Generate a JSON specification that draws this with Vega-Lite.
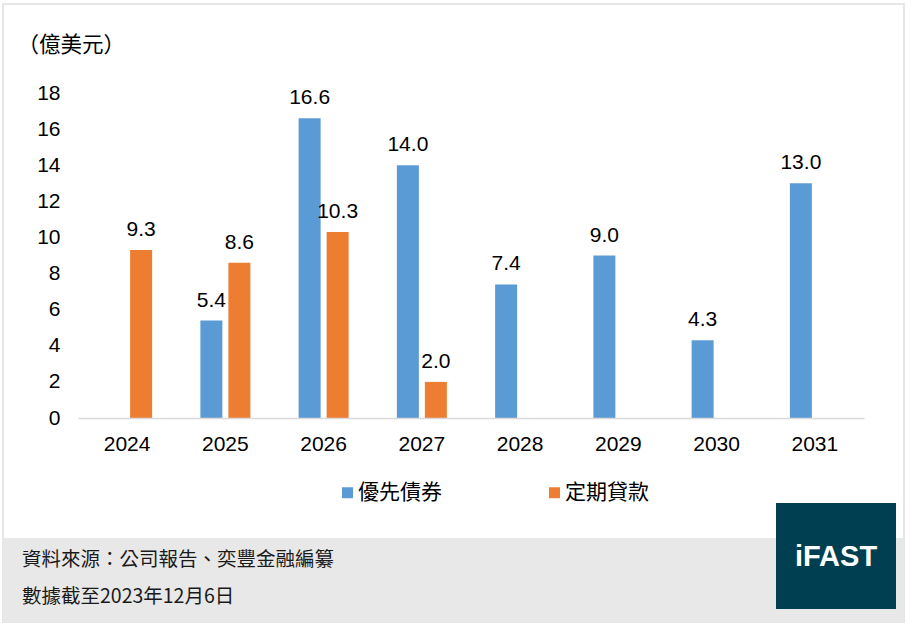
{
  "$schema": "https://vega.github.io/schema/vega-lite/v6.json",
  "description": "Senior bonds and term loans maturing by year (USD 100m)",
  "width": 786,
  "height": 325,
  "autosize": "none",
  "padding": {"left": 78, "top": 93, "right": 49, "bottom": 213},
  "background": "white",
  "config": {"view": {"stroke": null}},
  "resolve": {"scale": {"x": "independent", "y": "independent"}},
  "layer": [
    {
      "layer": [
        {
          "data": {"values": [{"part": "frame"}]},
          "mark": {"type": "rect", "fill": "white", "stroke": "#e6e6e6", "strokeWidth": 2},
          "encoding": {
            "x": {"datum": 3, "type": "quantitative", "axis": null,
                  "scale": {"domain": [0, 913], "range": [-78, 835], "nice": false, "zero": false}},
            "x2": {"datum": 904},
            "y": {"datum": 4, "type": "quantitative", "axis": null,
                  "scale": {"domain": [0, 631], "range": [-93, 538], "nice": false, "zero": false}},
            "y2": {"datum": 622}
          }
        },
        {
          "data": {"values": [{"part": "footer"}]},
          "mark": {"type": "rect", "fill": "#e8e8e8"},
          "encoding": {
            "x": {"datum": 3, "type": "quantitative"},
            "x2": {"datum": 904},
            "y": {"datum": 538, "type": "quantitative"},
            "y2": {"datum": 622}
          }
        },
        {
          "data": {"values": [{"part": "logo"}]},
          "mark": {"type": "rect", "fill": "#003f51"},
          "encoding": {
            "x": {"datum": 776, "type": "quantitative"},
            "x2": {"datum": 896},
            "y": {"datum": 503, "type": "quantitative"},
            "y2": {"datum": 609}
          }
        },
        {
          "data": {"values": [{"brand": "iFAST"}]},
          "mark": {"type": "text", "color": "white", "font": "Liberation Sans", "fontSize": 29,
                   "fontWeight": "bold", "align": "center", "baseline": "alphabetic"},
          "encoding": {
            "x": {"datum": 836, "type": "quantitative"},
            "y": {"datum": 566, "type": "quantitative"},
            "text": {"field": "brand"}
          }
        },
        {
          "data": {"values": [{"note": "資料來源：公司報告、奕豐金融編纂"}]},
          "mark": {"type": "text", "color": "#1a1a1a", "font": "Noto Sans CJK TC", "fontSize": 19.5,
                   "align": "left", "baseline": "alphabetic"},
          "encoding": {
            "x": {"datum": 22, "type": "quantitative"},
            "y": {"datum": 566, "type": "quantitative"},
            "text": {"field": "note"}
          }
        },
        {
          "data": {"values": [{"note": "數據截至2023年12月6日"}]},
          "mark": {"type": "text", "color": "#1a1a1a", "font": "Noto Sans CJK TC", "fontSize": 19.5,
                   "align": "left", "baseline": "alphabetic"},
          "encoding": {
            "x": {"datum": 22, "type": "quantitative"},
            "y": {"datum": 603, "type": "quantitative"},
            "text": {"field": "note"}
          }
        }
      ]
    },
    {
      "data": {
        "values": [
          {"year": "2024", "series": "定期貸款", "value": 9.3},
          {"year": "2025", "series": "優先債券", "value": 5.4},
          {"year": "2025", "series": "定期貸款", "value": 8.6},
          {"year": "2026", "series": "優先債券", "value": 16.6},
          {"year": "2026", "series": "定期貸款", "value": 10.3},
          {"year": "2027", "series": "優先債券", "value": 14.0},
          {"year": "2027", "series": "定期貸款", "value": 2.0},
          {"year": "2028", "series": "優先債券", "value": 7.4},
          {"year": "2029", "series": "優先債券", "value": 9.0},
          {"year": "2030", "series": "優先債券", "value": 4.3},
          {"year": "2031", "series": "優先債券", "value": 13.0}
        ]
      },
      "encoding": {
        "x": {
          "field": "year",
          "type": "nominal",
          "sort": ["2024", "2025", "2026", "2027", "2028", "2029", "2030", "2031"],
          "scale": {"paddingInner": 0.491, "paddingOuter": 0.2455},
          "axis": {
            "orient": "bottom",
            "zindex": 1,
            "title": null,
            "labelAngle": 0,
            "labelFont": "Liberation Sans",
            "labelFontSize": 21,
            "labelColor": "#000000",
            "labelPadding": 15,
            "ticks": false,
            "domainColor": "#d9d9d9",
            "domainWidth": 1.5
          }
        },
        "xOffset": {
          "field": "series",
          "type": "nominal",
          "scale": {"domain": ["優先債券", "定期貸款"], "paddingInner": 0.2143, "paddingOuter": 0}
        },
        "y": {
          "field": "value",
          "type": "quantitative",
          "scale": {"domain": [0, 18], "nice": false},
          "axis": {
            "orient": "left",
            "zindex": 1,
            "values": [0, 2, 4, 6, 8, 10, 12, 14, 16, 18],
            "grid": false,
            "domain": false,
            "ticks": false,
            "labelFont": "Liberation Sans",
            "labelFontSize": 21,
            "labelColor": "#000000",
            "labelPadding": 18,
            "title": "（億美元）",
            "titleFont": "Noto Sans CJK TC",
            "titleFontSize": 21.5,
            "titleFontWeight": "normal",
            "titleColor": "#000000",
            "titleAngle": 0,
            "titleAlign": "left",
            "titleBaseline": "middle",
            "titleX": -61,
            "titleY": -48
          }
        }
      },
      "layer": [
        {
          "mark": {"type": "bar"},
          "encoding": {
            "color": {
              "field": "series",
              "type": "nominal",
              "scale": {"domain": ["優先債券", "定期貸款"], "range": ["#5b9bd5", "#ed7d31"]},
              "legend": {
                "orient": "none",
                "legendX": 259,
                "legendY": 389,
                "direction": "horizontal",
                "title": null,
                "padding": 0,
                "symbolType": "square",
                "symbolSize": 121,
                "symbolStrokeWidth": 0,
                "labelFont": "Noto Sans CJK TC",
                "labelFontSize": 21,
                "labelColor": "#000000",
                "labelOffset": 0,
                "labelLimit": 0,
                "columnPadding": 102
              }
            }
          }
        },
        {
          "mark": {"type": "text", "font": "Liberation Sans", "fontSize": 21, "color": "#000000",
                   "baseline": "alphabetic", "dy": -14},
          "encoding": {
            "text": {"field": "value", "type": "quantitative", "format": ".1f"}
          }
        }
      ]
    }
  ]
}
